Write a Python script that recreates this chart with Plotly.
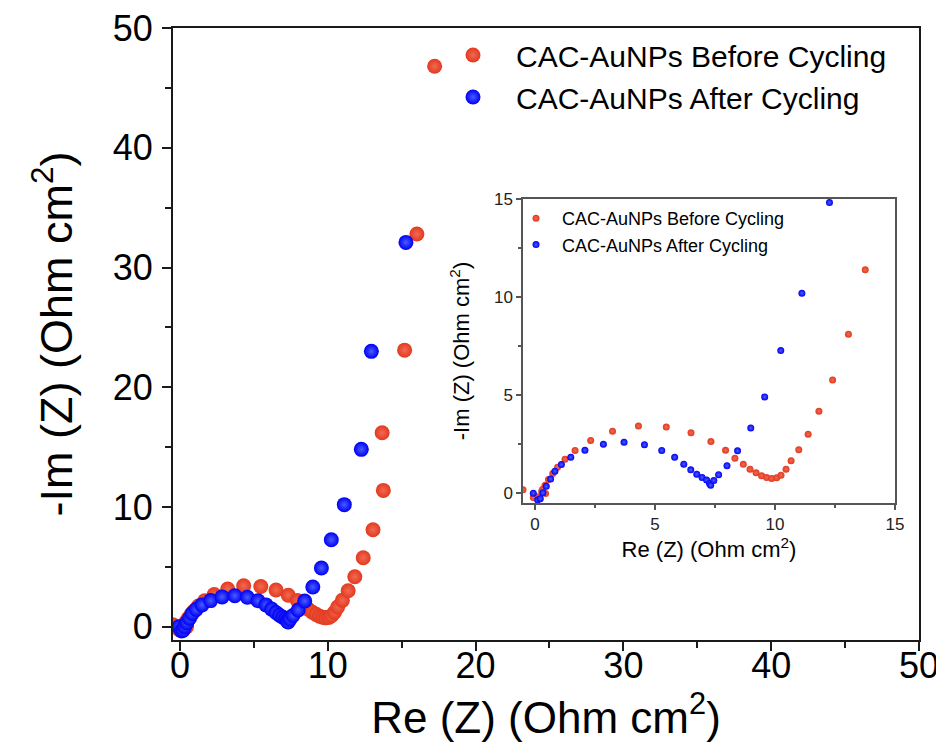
import plotly.graph_objects as go

# ---- data: CAC-AuNPs before cycling (red) ----
before_re = [-0.50, -0.07, 0.14, 0.28, 0.44, 0.32, 0.42, 0.56, 0.74, 0.94, 1.25, 1.67, 2.32,
             3.23, 4.31, 5.47, 6.50, 7.33, 7.94, 8.33, 8.68, 8.96, 9.21, 9.44, 9.65, 9.86,
             10.07, 10.25, 10.46, 10.67, 10.99, 11.38, 11.83, 12.40, 13.06, 13.76, 13.68,
             15.20, 16.03, 17.23]
before_im = [0.18, -0.22, -0.18, 0.10, -0.02, 0.20, 0.41, 0.70, 1.01, 1.32, 1.73, 2.18, 2.69,
             3.16, 3.42, 3.37, 3.08, 2.64, 2.19, 1.78, 1.47, 1.22, 1.04, 0.89, 0.80, 0.75,
             0.79, 0.92, 1.22, 1.66, 2.21, 3.01, 4.18, 5.77, 8.11, 11.39, 16.2,
             23.1, 32.8, 46.8]

# ---- data: CAC-AuNPs after cycling (blue) ----
after_re = [-0.07, 0.11, 0.22, 0.33, 0.47, 0.65, 0.83, 1.10, 1.49, 2.08, 2.85, 3.71, 4.56,
            5.28, 5.82, 6.20, 6.49, 6.74, 6.96, 7.15, 7.27, 7.32, 7.45, 7.65, 8.00, 8.44,
            8.99, 9.57, 10.24, 11.12, 12.27, 12.95, 15.29]
after_im = [0.00, -0.35, -0.28, 0.02, 0.35, 0.72, 1.12, 1.46, 1.83, 2.19, 2.50, 2.60, 2.47,
            2.18, 1.83, 1.48, 1.19, 0.97, 0.80, 0.67, 0.50, 0.41, 0.65, 0.94, 1.40, 2.16,
            3.32, 4.91, 7.27, 10.2, 14.82, 23.0, 32.1]

series_names = ["CAC-AuNPs Before Cycling", "CAC-AuNPs After Cycling"]
main_ticks = [0, 10, 20, 30, 40, 50]
inset_ticks = [0, 5, 10, 15]

RED = "#e3391f"
RED_HI = "#f06a52"
BLUE = "#0000f2"
BLUE_HI = "#4a5cff"
FONT = "Liberation Sans, Arial, sans-serif"

# page body has an 8px default margin; plot area target (page px): x 173..919, y 28..640
L, T, PW, PH = 165, 20, 746, 612
W, H = 944, 751


def px_x(p):  # page x -> paper x
    return (p - 8 - L) / PW


def px_y(p):  # page y -> paper y
    return (T + PH - (p - 8)) / PH


fig = go.Figure()


def marker(color, hi, size):
    return dict(color=color, size=size, line=dict(width=0),
                gradient=dict(type="radial", color=hi))


# main traces
fig.add_trace(go.Scatter(x=before_re, y=before_im, mode="markers", name=series_names[0],
                         marker=marker(RED, RED_HI, 15), xaxis="x", yaxis="y", legend="legend"))
fig.add_trace(go.Scatter(x=after_re, y=after_im, mode="markers", name=series_names[1],
                         marker=marker(BLUE, BLUE_HI, 15), xaxis="x", yaxis="y", legend="legend"))
# inset traces
fig.add_trace(go.Scatter(x=before_re, y=before_im, mode="markers", name=series_names[0],
                         marker=marker(RED, RED_HI, 7), xaxis="x2", yaxis="y2", legend="legend2"))
fig.add_trace(go.Scatter(x=after_re, y=after_im, mode="markers", name=series_names[1],
                         marker=marker(BLUE, BLUE_HI, 7), xaxis="x2", yaxis="y2", legend="legend2"))

AX = "#1a1a1a"
IAX = "#555555"

main_axis = dict(showgrid=False, zeroline=False, showline=True, linecolor=AX, linewidth=2,
                 mirror=True, ticks="outside", ticklen=9, tickwidth=2, tickcolor=AX,
                 automargin=False, ticklabeloverflow="allow",
                 tickfont=dict(family=FONT, size=36, color="#000"),
                 minor=dict(ticks="outside", ticklen=6, tickwidth=2, tickcolor=AX, dtick=5))
inset_axis = dict(showgrid=False, zeroline=False, showline=True, linecolor=IAX, linewidth=1.5,
                  mirror=True, ticks="outside", ticklen=5, tickwidth=1.5, tickcolor=IAX,
                  automargin=False, ticklabeloverflow="allow",
                  tickfont=dict(family=FONT, size=17, color="#222"),
                  minor=dict(ticks="outside", ticklen=3, tickwidth=1.5, tickcolor=IAX, dtick=2.5))

fig.update_layout(
    width=W, height=H,
    margin=dict(l=L, r=W - L - PW, t=T, b=H - T - PH, autoexpand=False),
    paper_bgcolor="white", plot_bgcolor="white",
    font=dict(family=FONT, color="#000"),
    xaxis=dict(main_axis, range=[-0.47, 50], tickvals=main_ticks, domain=[0, 1],
               ticklabelstandoff=-16,
               title=dict(text="Re (Z) (Ohm cm<sup>2</sup>)", font=dict(size=44), standoff=4)),
    yaxis=dict(main_axis, range=[-1.1, 50], tickvals=main_ticks, domain=[0, 1],
               ticklabelstandoff=2,
               title=dict(text="-Im (Z) (Ohm cm<sup>2</sup>)", font=dict(size=45), standoff=26)),
    xaxis2=dict(inset_axis, range=[-0.5, 15], tickvals=inset_ticks,
                domain=[px_x(523), px_x(895)], anchor="y2",
                title=dict(text="Re (Z) (Ohm cm<sup>2</sup>)", font=dict(size=22), standoff=0)),
    yaxis2=dict(inset_axis, range=[-0.5, 15], tickvals=inset_ticks,
                domain=[px_y(503), px_y(199)], anchor="x2",
                title=dict(text="-Im (Z) (Ohm cm<sup>2</sup>)", font=dict(size=22), standoff=18)),
    legend=dict(x=px_x(430), y=px_y(29), xanchor="left", yanchor="top",
                bgcolor="rgba(0,0,0,0)", font=dict(family=FONT, size=30, color="#000"),
                itemwidth=76, tracegroupgap=0),
    legend2=dict(x=px_x(510), y=px_y(200), xanchor="left", yanchor="top",
                 bgcolor="rgba(0,0,0,0)", font=dict(family=FONT, size=18, color="#000"),
                 itemwidth=42, tracegroupgap=0),
    showlegend=True,
)

fig.write_html("out.html")
